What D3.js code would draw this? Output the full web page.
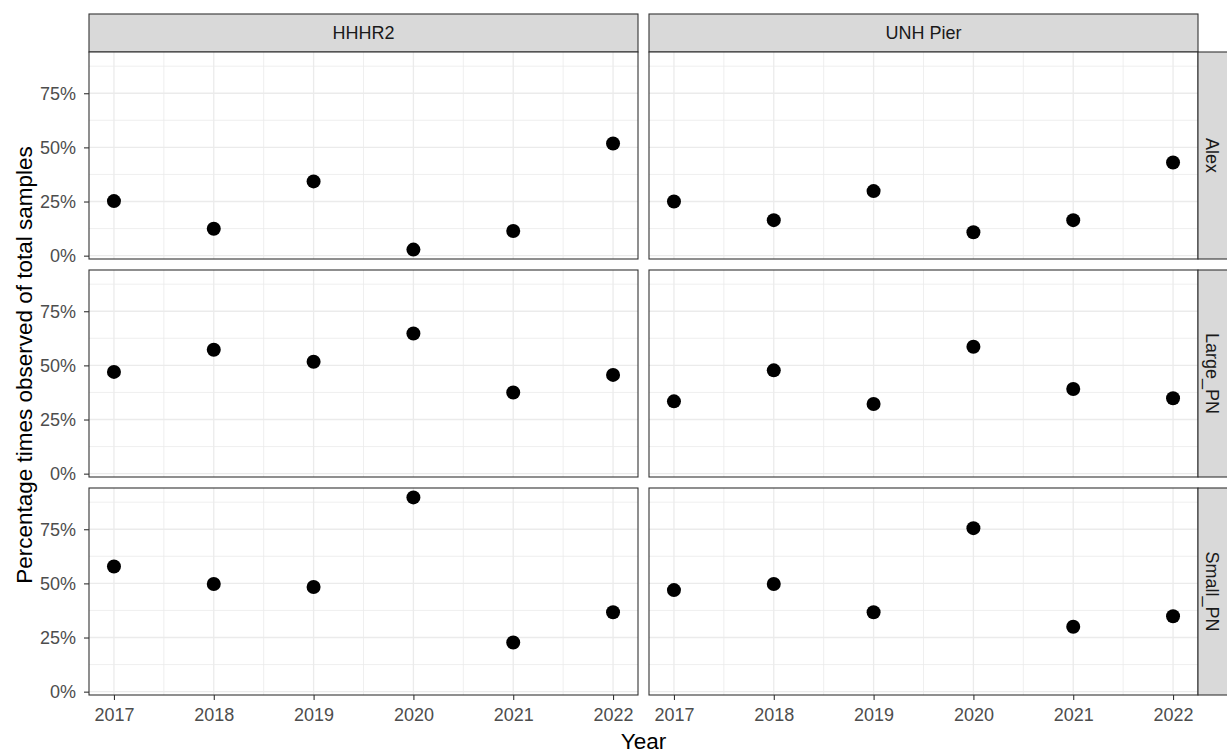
<!DOCTYPE html>
<html>
<head>
<meta charset="utf-8">
<script src="https://cdn.jsdelivr.net/npm/d3@7"></script>
<style>
  html, body { margin: 0; padding: 0; background: #fff; }
  svg { display: block; font-family: "Liberation Sans", Arial, sans-serif; }
</style>
</head>
<body>
<svg id="chart" width="1227" height="753"></svg>
<script>
// ---- data ----
const years = [2017, 2018, 2019, 2020, 2021, 2022];
const sites = ["HHHR2", "UNH Pier"];
const groups = ["Alex", "Large_PN", "Small_PN"];
const yTickValues = [0, 0.25, 0.5, 0.75];
const yTickLabels = ["0%", "25%", "50%", "75%"];

const alexHHHR2   = [0.252, 0.124, 0.343, 0.028, 0.114, 0.518];
const alexUNH     = [0.250, 0.164, 0.298, 0.108, 0.164, 0.430];
const largeHHHR2  = [0.470, 0.572, 0.517, 0.647, 0.375, 0.456];
const largeUNH    = [0.334, 0.477, 0.322, 0.586, 0.391, 0.348];
const smallHHHR2  = [0.578, 0.497, 0.483, 0.897, 0.227, 0.367];
const smallUNH    = [0.469, 0.497, 0.367, 0.755, 0.300, 0.348];

const seriesTable = {
  "Alex":     { "HHHR2": alexHHHR2,  "UNH Pier": alexUNH },
  "Large_PN": { "HHHR2": largeHHHR2, "UNH Pier": largeUNH },
  "Small_PN": { "HHHR2": smallHHHR2, "UNH Pier": smallUNH }
};

// ---- layout ----
const svg = d3.select("#chart");
const colX = [89, 649];
const panelW = 549;
const rowY = [52, 270, 488];
const panelH = 207;
const stripTop = 14, stripH = 38;
const rStripW = 38;
const FS = 18, TFS = 22.5;

// scales (ggplot-like 5% expansion)
const allVals = [].concat(alexHHHR2, alexUNH, largeHHHR2, largeUNH, smallHHHR2, smallUNH);
const vmin = d3.min(allVals), vmax = d3.max(allVals);
const vr = vmax - vmin;
const yDomain = [vmin - 0.05 * vr, vmax + 0.05 * vr];
const xr = years[years.length - 1] - years[0];
const xDomain = [years[0] - 0.05 * xr, years[years.length - 1] + 0.05 * xr];

const xMinor = [2017.5, 2018.5, 2019.5, 2020.5, 2021.5];
const yMinor = [0.125, 0.375, 0.625, 0.875];

sites.forEach((site, ci) => {
  const x = d3.scaleLinear().domain(xDomain).range([colX[ci], colX[ci] + panelW]);

  // top strip
  svg.append("rect")
    .attr("x", colX[ci]).attr("y", stripTop)
    .attr("width", panelW).attr("height", stripH)
    .attr("fill", "#D9D9D9").attr("stroke", "#333333").attr("stroke-width", 1.1);
  svg.append("text")
    .attr("x", colX[ci] + panelW / 2).attr("y", stripTop + stripH / 2)
    .attr("dy", "0.35em").attr("text-anchor", "middle")
    .attr("font-size", FS).attr("fill", "#1A1A1A")
    .text(site);

  groups.forEach((grp, ri) => {
    const y = d3.scaleLinear().domain(yDomain).range([rowY[ri] + panelH, rowY[ri]]);
    const g = svg.append("g");

    g.append("rect")
      .attr("x", colX[ci]).attr("y", rowY[ri])
      .attr("width", panelW).attr("height", panelH)
      .attr("fill", "#fff");

    // minor grid
    g.selectAll(null).data(xMinor).enter().append("line")
      .attr("x1", d => x(d)).attr("x2", d => x(d))
      .attr("y1", rowY[ri]).attr("y2", rowY[ri] + panelH)
      .attr("stroke", "#EBEBEB").attr("stroke-width", 0.8);
    g.selectAll(null).data(yMinor.filter(v => v < yDomain[1])).enter().append("line")
      .attr("x1", colX[ci]).attr("x2", colX[ci] + panelW)
      .attr("y1", d => y(d)).attr("y2", d => y(d))
      .attr("stroke", "#EBEBEB").attr("stroke-width", 0.8);
    // major grid
    g.selectAll(null).data(years).enter().append("line")
      .attr("x1", d => x(d)).attr("x2", d => x(d))
      .attr("y1", rowY[ri]).attr("y2", rowY[ri] + panelH)
      .attr("stroke", "#EBEBEB").attr("stroke-width", 1.3);
    g.selectAll(null).data(yTickValues).enter().append("line")
      .attr("x1", colX[ci]).attr("x2", colX[ci] + panelW)
      .attr("y1", d => y(d)).attr("y2", d => y(d))
      .attr("stroke", "#EBEBEB").attr("stroke-width", 1.3);

    // points
    const vals = seriesTable[grp][site];
    g.selectAll(null).data(years.map((yr, i) => ({ yr, v: vals[i] }))).enter()
      .append("circle")
      .attr("cx", d => x(d.yr)).attr("cy", d => y(d.v))
      .attr("r", 7).attr("fill", "#000");

    // border
    g.append("rect")
      .attr("x", colX[ci]).attr("y", rowY[ri])
      .attr("width", panelW).attr("height", panelH)
      .attr("fill", "none").attr("stroke", "#333333").attr("stroke-width", 1.1);

    // y axis on left column
    if (ci === 0) {
      const ax = d3.axisLeft(y).tickValues(yTickValues)
        .tickFormat((d, i) => yTickLabels[i]).tickSizeInner(5).tickSizeOuter(0).tickPadding(8);
      const ag = svg.append("g").attr("transform", `translate(${colX[0]},0)`).call(ax);
      ag.select(".domain").remove();
      ag.selectAll(".tick line").attr("stroke", "#333333").attr("stroke-width", 1.1);
      ag.selectAll(".tick text").attr("fill", "#4D4D4D").attr("font-size", FS)
        .attr("font-family", "Liberation Sans, Arial, sans-serif");
    }

    // right strip on right column
    if (ci === sites.length - 1) {
      const sx = colX[ci] + panelW;
      svg.append("rect")
        .attr("x", sx).attr("y", rowY[ri])
        .attr("width", rStripW).attr("height", panelH)
        .attr("fill", "#D9D9D9").attr("stroke", "#333333").attr("stroke-width", 1.1);
      const cx = sx + 14, cy = rowY[ri] + panelH / 2;
      svg.append("text")
        .attr("transform", `translate(${cx},${cy}) rotate(90)`)
        .attr("dy", "0.35em").attr("text-anchor", "middle")
        .attr("font-size", FS).attr("fill", "#1A1A1A")
        .text(grp);
    }
  });

  // x axis at bottom
  const bottom = rowY[2] + panelH;
  const axb = d3.axisBottom(x).tickValues(years).tickFormat(d3.format("d"))
    .tickSizeInner(5).tickSizeOuter(0).tickPadding(8);
  const bg = svg.append("g").attr("transform", `translate(0,${bottom})`).call(axb);
  bg.select(".domain").remove();
  bg.selectAll(".tick line").attr("stroke", "#333333").attr("stroke-width", 1.1);
  bg.selectAll(".tick text").attr("fill", "#4D4D4D").attr("font-size", FS)
    .attr("font-family", "Liberation Sans, Arial, sans-serif");
});

// axis titles
svg.append("text")
  .attr("x", (colX[0] + colX[1] + panelW) / 2).attr("y", 749)
  .attr("text-anchor", "middle").attr("font-size", TFS).attr("fill", "#000")
  .text("Year");
svg.append("text")
  .attr("transform", `translate(32,365) rotate(-90)`)
  .attr("text-anchor", "middle").attr("font-size", TFS).attr("fill", "#000")
  .text("Percentage times observed of total samples");
</script>
</body>
</html>
